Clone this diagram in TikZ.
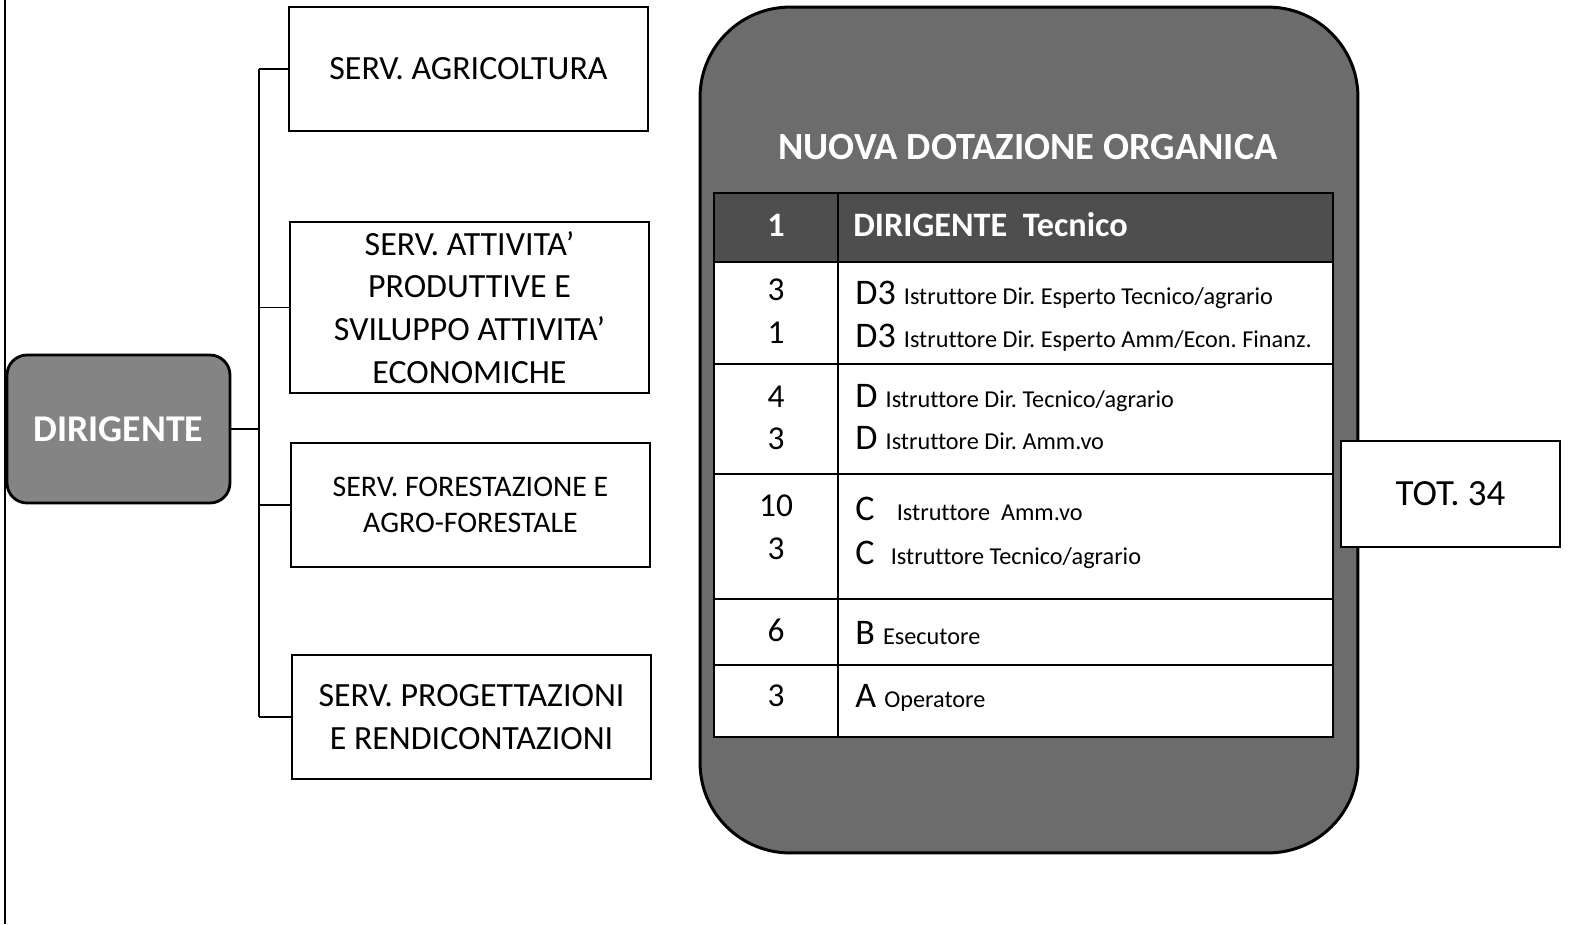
\documentclass[tikz,border=0pt]{standalone}
\usepackage{fontspec}
\setmainfont[Ligatures=NoCommon]{Carlito}
\frenchspacing
\usetikzlibrary{positioning}
\definecolor{panelgray}{RGB}{108,108,108}
\definecolor{headgray}{RGB}{78,78,78}
\definecolor{dirgray}{RGB}{132,132,132}

% big letter + small description of a grade
\newcommand{\grado}[3][\ ]{{\fontsize{20.5}{24}\selectfont #2#1}{\fontsize{13.8}{16}\selectfont #3}}

\tikzset{
  servbox/.style={draw, thick, fill=white, minimum width=7.18cm, minimum height=2.48cm,
    align=center, inner sep=2pt, font=\fontsize{19.3}{24.4}\selectfont},
  dirbox/.style={draw, line width=1.6pt, fill=dirgray, rounded corners=0.4cm,
    minimum width=4.46cm, minimum height=2.96cm, text=white,
    font=\fontsize{21.5}{26}\selectfont\bfseries},
  panel/.style={draw, line width=1.7pt, fill=panelgray, rounded corners=1.8cm,
    minimum width=13.16cm, minimum height=16.92cm},
  numcell/.style={anchor=base, inner sep=0pt, font=\fontsize{19}{22}\selectfont},
  gradecell/.style={anchor=base west, inner sep=0pt},
  totbox/.style={draw, thick, fill=white, minimum width=4.38cm, minimum height=2.12cm,
    font=\fontsize{21}{25}\selectfont},
  tree/.style={thick}
}

\begin{document}
\begin{tikzpicture}[x=0.02cm, y=-0.02cm]
  \useasboundingbox (0,0) rectangle (1575,924);

  % page margin line
  \draw[line width=1.2pt] (5,0) -- (5,924);

  % Dirigente and services
  \node[dirbox] (dir) at (118.5,429) {DIRIGENTE};
  \node[servbox] (agri) at (468.5,69) {SERV. AGRICOLTURA};
  \node[servbox, minimum height=3.42cm] (attiv) at (469.5,307.5)
    {SERV. ATTIVITA'\\PRODUTTIVE E\\SVILUPPO ATTIVITA'\\ECONOMICHE};
  \node[servbox, font=\fontsize{17}{20.4}\selectfont] (fore) at (470.5,505)
    {SERV. FORESTAZIONE E\\AGRO-FORESTALE};
  \node[servbox] (prog) at (471.5,717) {SERV. PROGETTAZIONI\\E RENDICONTAZIONI};

  % Tree connectors
  \coordinate (trunk) at (259,429);
  \draw[tree] (dir.east) -- (trunk);
  \draw[tree] (trunk |- agri.west) -- (trunk |- prog.west);
  \foreach \s in {agri,attiv,fore,prog}
    \draw[tree] (trunk |- \s.west) -- (\s.west);

  % Panel
  \node[panel] (panel) at (1029,430) {};
  \node[text=white, font=\fontsize{21.9}{26}\selectfont\bfseries] (title) at (1028,147)
    {NUOVA DOTAZIONE ORGANICA};

  % Table
  \fill[headgray] (714,193) rectangle (1333,262);
  \fill[white] (714,262) rectangle (1333,737);
  \draw[thick] (714,193) rectangle (1333,737);
  \draw[line width=1.6pt] (714,262) -- (1333,262);
  \draw[thick] (838,193) -- (838,737);
  \foreach \ry in {364,474,599,665}
    \draw[thick] (714,\ry) -- (1333,\ry);

  % Header row
  \node[numcell, text=white, font=\fontsize{19.5}{22}\selectfont\bfseries] (num0) at (776,236) {1};
  \node[gradecell, text=white, font=\fontsize{19.5}{22}\selectfont\bfseries] (head) at (853,236)
    {DIRIGENTE\ \ Tecnico};

  % Numbers
  \foreach \i/\yb/\n in {1/300/3, 2/343/1, 3/407/4, 4/449/3, 5/516/10, 6/559/3, 7/641/6, 8/706/3}
    \node[numcell] (num\i) at (776,\yb) {\n};

  % Grades
  \node[gradecell] (gr1) at (855,304) {\grado{D3}{Istruttore Dir. Esperto Tecnico/agrario}};
  \node[gradecell] (gr2) at (855,347) {\grado{D3}{Istruttore Dir. Esperto Amm/Econ. Finanz.}};
  \node[gradecell] (gr3) at (855,407) {\grado{D}{Istruttore Dir. Tecnico/agrario}};
  \node[gradecell] (gr4) at (855,449) {\grado{D}{Istruttore Dir. Amm.vo}};
  \node[gradecell] (gr5) at (855,520) {\grado[\ \ \,]{C}{Istruttore\ \ Amm.vo}};
  \node[gradecell] (gr6) at (855,564) {\grado[\ \ ]{C}{Istruttore Tecnico/agrario}};
  \node[gradecell] (gr7) at (855,644) {\grado{B}{Esecutore}};
  \node[gradecell] (gr8) at (855,707) {\grado{A}{Operatore}};

  % Total
  \node[totbox] (tot) at (1450.5,494) {TOT. 34};
\end{tikzpicture}
\end{document}
